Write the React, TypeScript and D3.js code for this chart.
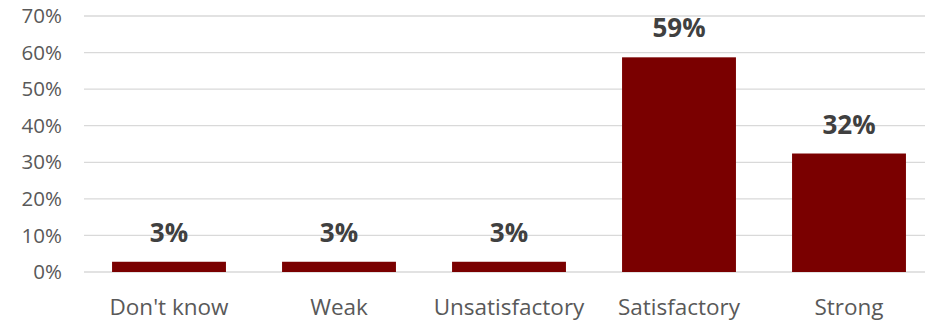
import React from "react";
import * as d3 from "d3";

const categories = ["Don't know", "Weak", "Unsatisfactory", "Satisfactory", "Strong"];
const values = [0.028, 0.028, 0.028, 0.587, 0.324];
const yTicks = [0, 0.1, 0.2, 0.3, 0.4, 0.5, 0.6, 0.7];

const W = 925;
const H = 324;

export default function App() {
  const x = d3
    .scaleBand<string>()
    .domain(categories)
    .range([84, 934])
    .paddingInner(0.33)
    .paddingOuter(0.165);
  const y = d3.scaleLinear().domain([0, 0.7]).range([272, 16]);
  const fmt = d3.format(".0%");
  const font = "'Open Sans', sans-serif";

  return (
    <svg
      width={W}
      height={H}
      style={{ position: "absolute", left: 0, top: 0, background: "#fff" }}
    >
      {yTicks.map((t) => (
        <g key={t}>
          <line x1={84} x2={W} y1={y(t)} y2={y(t)} stroke="#d9d9d9" strokeWidth={1.3} />
          <text
            x={62}
            y={y(t)}
            dy="0.35em"
            textAnchor="end"
            fontFamily={font}
            fontSize={20.5}
            fill="#595959"
          >
            {fmt(t)}
          </text>
        </g>
      ))}
      {categories.map((c, i) => {
        const bx = x(c)!;
        const by = y(values[i]);
        return (
          <g key={c}>
            <rect x={bx} y={by} width={x.bandwidth()} height={y(0) - by} fill="#7a0000" />
            <text
              x={bx + x.bandwidth() / 2}
              y={by - 20}
              textAnchor="middle"
              fontFamily={font}
              fontWeight={700}
              fontSize={26}
              fill="#404040"
            >
              {fmt(values[i])}
            </text>
            <text
              x={bx + x.bandwidth() / 2}
              y={315}
              textAnchor="middle"
              fontFamily={font}
              fontSize={22.5}
              fill="#595959"
            >
              {c}
            </text>
          </g>
        );
      })}
    </svg>
  );
}
